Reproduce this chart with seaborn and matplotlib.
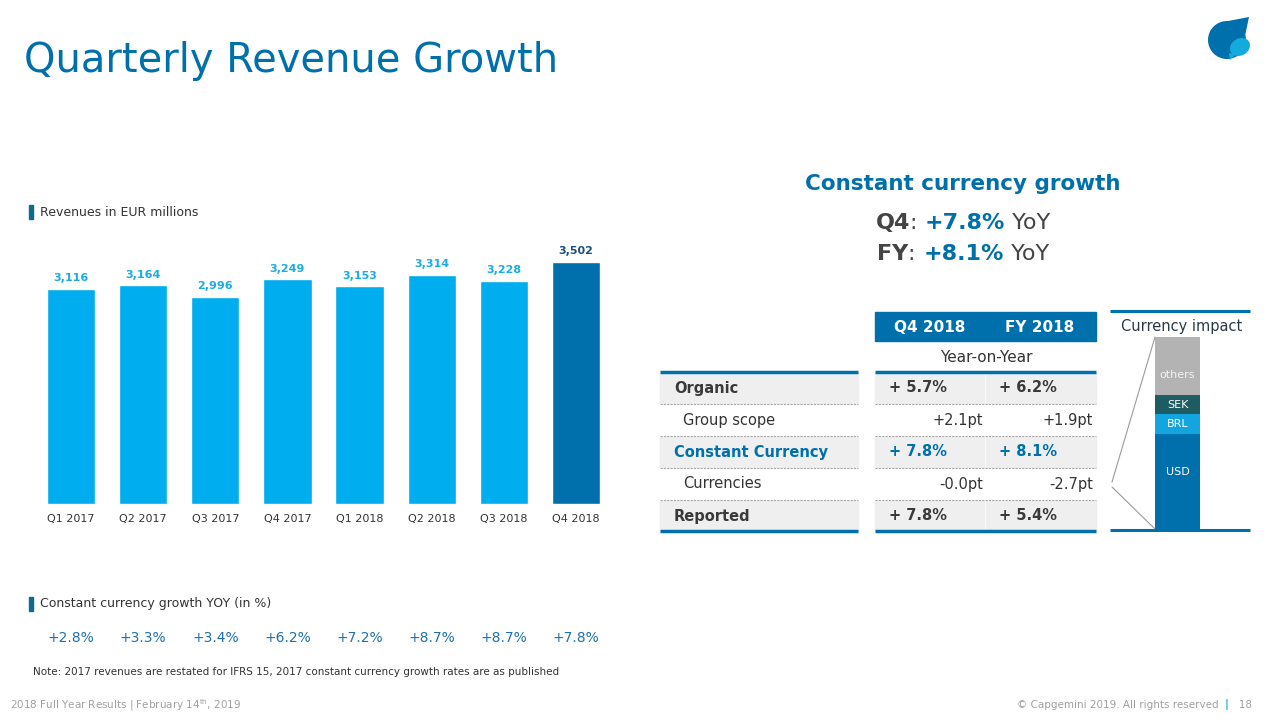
import matplotlib
matplotlib.use('Agg')
import matplotlib.pyplot as plt
import seaborn as sns
import pandas as pd
from matplotlib.patches import Rectangle, Circle, Polygon, Ellipse

# ---------------- data ----------------
quarters = ["Q1 2017", "Q2 2017", "Q3 2017", "Q4 2017",
            "Q1 2018", "Q2 2018", "Q3 2018", "Q4 2018"]
revenues = [3116, 3164, 2996, 3249, 3153, 3314, 3228, 3502]
growth = ["+2.8%", "+3.3%", "+3.4%", "+6.2%", "+7.2%", "+8.7%", "+8.7%", "+7.8%"]

row_labels = ["Organic", "Group scope", "Constant Currency", "Currencies", "Reported"]
q4_values = ["+ 5.7%", "+2.1pt", "+ 7.8%", "-0.0pt", "+ 7.8%"]
fy_values = ["+ 6.2%", "+1.9pt", "+ 8.1%", "-2.7pt", "+ 5.4%"]
row_bold = [True, False, True, False, True]

currency_names = ["USD", "BRL", "SEK", "others"]
currency_shares = [50, 10, 10, 30]

# ---------------- style ----------------
BLUE = "#0070AD"
LIGHT = "#00AEEF"
DARK_TXT = "#333333"
GREY_BG = "#EFEFEF"

sns.set_theme(style="white")
plt.rcParams['font.family'] = ['DejaVu Sans']
plt.rcParams['mathtext.fontset'] = 'dejavusans'

fig = plt.figure(figsize=(12.8, 7.2), dpi=100)
deco = fig.add_axes([0, 0, 1, 1])
deco.set_xlim(0, 1280)
deco.set_ylim(720, 0)
deco.axis('off')
deco.patch.set_alpha(0)


def rich(x, y, pieces, ha='center', va='baseline'):
    texts = []
    for s, props in pieces:
        t = deco.text(0, y, s, va=va, ha='left', **props)
        texts.append(t)
    r = fig.canvas.get_renderer()
    widths = [t.get_window_extent(renderer=r).width for t in texts]
    total = sum(widths)
    if ha == 'center':
        cx = x - total / 2
    elif ha == 'right':
        cx = x - total
    else:
        cx = x
    for t, w in zip(texts, widths):
        t.set_x(cx)
        cx += w


# ---------------- title & logo ----------------
deco.text(24, 72, "Quarterly Revenue Growth", fontsize=28.8, color=BLUE, va='baseline')
deco.add_patch(Circle((1227, 40), 19, color=BLUE, zorder=2, lw=0))
deco.add_patch(Polygon([[1210, 31], [1228, 21], [1249, 17], [1245, 36], [1240, 55]],
                       closed=True, color=BLUE, zorder=2, lw=0))
deco.add_patch(Ellipse((1240, 47), 21, 17, angle=-30, color="#12ABDB", zorder=3, lw=0))
deco.add_patch(Polygon([[1229, 53], [1236, 54], [1230, 60]], closed=True,
                       color="#12ABDB", zorder=3, lw=0))

# ---------------- bar chart ----------------
deco.add_patch(Rectangle((29, 205), 3.5, 14, color="#0F6A8C"))
deco.text(40, 212, "Revenues in EUR millions", fontsize=9, color=DARK_TXT, va='center')

ax = fig.add_axes([35 / 1280, 216 / 720, 577 / 1280, 262.6 / 720])
df = pd.DataFrame({"quarter": quarters, "revenue": revenues})
bar_colors = [LIGHT] * 7 + [BLUE]
sns.barplot(data=df, x="quarter", y="revenue", hue="quarter", palette=bar_colors,
            legend=False, width=0.67, saturation=1, ax=ax)
ax.set_ylim(0, 3800)
ax.set_xlim(-0.5, 7.5)
ax.set_yticks([])
ax.set_xlabel("")
ax.set_ylabel("")
ax.tick_params(axis='x', length=0, labelsize=8, colors=DARK_TXT, pad=7)
for sp in ax.spines.values():
    sp.set_visible(False)
ax.patch.set_alpha(0)
label_colors = ["#1AACE3"] * 7 + ["#1B4F80"]
for i, v in enumerate(revenues):
    ax.annotate(f"{v:,}", (i, v), xytext=(0, 4), textcoords='offset points',
                ha='center', va='bottom', fontsize=8, fontweight='bold',
                color=label_colors[i])

# growth row (x positions taken from the bar axis scale)
deco.add_patch(Rectangle((29, 597), 3.5, 14, color="#0F6A8C"))
deco.text(40, 604, "Constant currency growth YOY (in %)", fontsize=9, color=DARK_TXT, va='center')
for i, g in enumerate(growth):
    xpix = ax.transData.transform((i, 0))[0]
    deco.text(xpix, 638, g, ha='center', va='center', fontsize=10, color="#1F70AE")

deco.text(33, 672, "Note: 2017 revenues are restated for IFRS 15, 2017 constant currency growth rates are as published",
          fontsize=7.5, color=DARK_TXT, va='center')

# ---------------- right headline ----------------
deco.text(963, 184, "Constant currency growth", fontsize=15.5, fontweight='bold',
          color=BLUE, ha='center', va='center')
for yb, lab, val in [(229, "Q4", "+7.8%"), (260, "FY", "+8.1%")]:
    rich(963, yb, [(lab, dict(fontsize=16, fontweight='bold', color="#444444")),
                   (": ", dict(fontsize=16, color="#444444")),
                   (val, dict(fontsize=16, fontweight='bold', color=BLUE)),
                   (" YoY", dict(fontsize=16, color="#444444"))])

# ---------------- table ----------------
L0, L1 = 660, 858
Q0, QM, F1 = 875, 985, 1096
deco.add_patch(Rectangle((Q0, 312), F1 - Q0, 29, color=BLUE))
deco.text(930, 327, "Q4 2018", fontsize=11, fontweight='bold', color='white', ha='center', va='center')
deco.text(1040, 327, "FY 2018", fontsize=11, fontweight='bold', color='white', ha='center', va='center')
deco.text(986, 357, "Year-on-Year", fontsize=11, color=DARK_TXT, ha='center', va='center')

row_h = 32
top = 372
for k, (lab, q, f, b) in enumerate(zip(row_labels, q4_values, fy_values, row_bold)):
    yc = top + row_h * k + 16
    if b:
        deco.add_patch(Rectangle((L0, yc - 15), L1 - L0, 30, color=GREY_BG, zorder=0))
        deco.add_patch(Rectangle((Q0, yc - 15), QM - Q0 - 1, 30, color=GREY_BG, zorder=0))
        deco.add_patch(Rectangle((QM + 1, yc - 15), F1 - QM - 1, 30, color=GREY_BG, zorder=0))
        col = BLUE if lab == "Constant Currency" else "#3A3A3A"
        deco.text(674, yc, lab, fontsize=10.5, fontweight='bold', color=col, va='center')
        deco.text(889, yc, q, fontsize=10.5, fontweight='bold', color=col, va='center')
        deco.text(999, yc, f, fontsize=10.5, fontweight='bold', color=col, va='center')
    else:
        deco.text(683, yc, lab, fontsize=10.5, color=DARK_TXT, va='center')
        deco.text(983, yc, q, fontsize=10.5, color=DARK_TXT, va='center', ha='right')
        deco.text(1093, yc, f, fontsize=10.5, color=DARK_TXT, va='center', ha='right')
    if k < len(row_labels) - 1:
        ys = top + row_h * (k + 1)
        for a, bb in [(L0, L1), (Q0, F1)]:
            deco.plot([a, bb], [ys, ys], color="#A8A8A8", lw=0.8, ls=(0, (2, 1)))
for yl in [372, 531]:
    for a, bb in [(L0, L1), (Q0, F1)]:
        deco.plot([a, bb], [yl, yl], color=BLUE, lw=2.5, solid_capstyle='butt')

# ---------------- currency impact ----------------
for yl in [311, 530]:
    deco.plot([1110, 1250], [yl, yl], color=BLUE, lw=2.2, solid_capstyle='butt')
deco.text(1182, 327, "Currency impact", fontsize=10.5, color="#2B3A4A", ha='center', va='center')
deco.plot([1155, 1112], [337, 482], color="#9A9A9A", lw=0.8)
deco.plot([1112, 1155], [487, 529], color="#9A9A9A", lw=0.8)

ax2 = fig.add_axes([1155 / 1280, (720 - 530) / 720, 45 / 1280, 193 / 720])
stack_colors = [BLUE, "#12A5DF", "#1D5C63", "#B3B3B3"]
bottom = 0
for name, share, c in zip(currency_names, currency_shares, stack_colors):
    ax2.bar(0, share, bottom=bottom, width=1, color=c, edgecolor='none')
    ymid = bottom + share / 2
    if name == "USD":
        ymid += share * 0.1
    elif name == "others":
        ymid -= share * 0.15
    ax2.text(0, ymid, name, ha='center', va='center', fontsize=8,
             color='#F2F2F2' if name == "others" else 'white')
    bottom += share
ax2.set_xlim(-0.5, 0.5)
ax2.set_ylim(0, bottom)
ax2.axis('off')

# ---------------- footer ----------------
deco.text(10, 705, r"2018 Full Year Results | February 14$^{\mathrm{th}}$, 2019", fontsize=7.5,
          color="#A0A0A0", va='center')
rich(1252, 705, [("© Capgemini 2019. All rights reserved  ", dict(fontsize=7.5, color="#A0A0A0")),
                 ("|", dict(fontsize=7.5, color="#12ABDB", fontweight='bold')),
                 ("   18", dict(fontsize=7.5, color="#A0A0A0"))], ha='right', va='center')

fig.savefig("out.png", dpi=100)
